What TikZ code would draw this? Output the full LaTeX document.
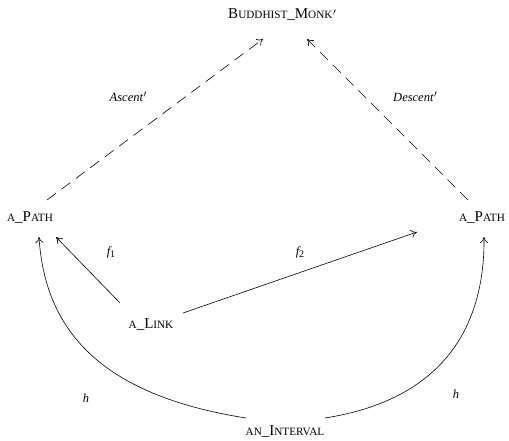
\documentclass[tikz,border=0pt]{standalone}
\usepackage{fontspec}
\setmainfont{Liberation Serif}
\usetikzlibrary{arrows.meta}
\newcommand{\sm}[1]{{\fontsize{11.2}{13}\selectfont #1}}
\newcommand{\prm}{\hspace{0.5pt}\raisebox{3.5pt}{\fontsize{10}{10}\selectfont$\prime$}}
\newcommand{\sub}[1]{\raisebox{-2.5pt}{\fontsize{10}{10}\selectfont\upshape #1}}
\begin{document}
\begin{tikzpicture}[x=1pt,y=1pt,
  obj/.style={font=\fontsize{15}{17}\selectfont, inner sep=2pt},
  lbl/.style={font=\fontsize{12.5}{14}\selectfont\itshape, inner sep=1pt},
  arr/.style={-{To[length=6pt,width=8pt]}, line width=0.6pt},
  dash arr/.style={arr, dash pattern=on 11pt off 7pt}]
\useasboundingbox (0,0) rectangle (509,-441);
\node[obj] (monk) at (282,-15) {B\sm{UDDHIST}\_M\sm{ONK}\prm};
\node[obj] (lp) at (30,-218) {\sm{A}\_P\sm{ATH}};
\node[obj] (rp) at (482,-218) {\sm{A}\_P\sm{ATH}};
\node[obj] (link) at (151,-325) {\sm{A}\_L\sm{INK}};
\node[obj] (int) at (285,-432) {\sm{AN}\_I\sm{NTERVAL}};
\coordinate (lpt) at (47,-200);
\coordinate (rpt) at (468,-200);
\coordinate (ma) at (263,-39);
\coordinate (mb) at (307,-39);
\coordinate (lps) at (39,-237);
\coordinate (lpe) at (56,-237);
\coordinate (rpw) at (417,-232);
\coordinate (rps) at (484,-237);
\coordinate (lka) at (120,-303);
\coordinate (lkb) at (183,-313);
\coordinate (ia) at (246,-418);
\coordinate (ib) at (325,-418);
\draw[dash arr] (lpt) -- (ma);
\draw[dash arr] (rpt) -- (mb);
\draw[arr] (lka) -- (lpe);
\draw[arr] (lkb) -- (rpw);
\draw[arr] (ia) .. controls (100,-395) and (45,-330) .. (lps);
\draw[arr] (ib) .. controls (440,-400) and (485,-330) .. (rps);
\node[lbl] at (128,-97) {Ascent\prm};
\node[lbl] at (415,-97) {Descent\prm};
\node[lbl] at (111,-252) {f\sub{1}};
\node[lbl] at (300,-252) {f\sub{2}};
\node[lbl] at (86,-398) {h};
\node[lbl] at (456,-394) {h};
\end{tikzpicture}
\end{document}
